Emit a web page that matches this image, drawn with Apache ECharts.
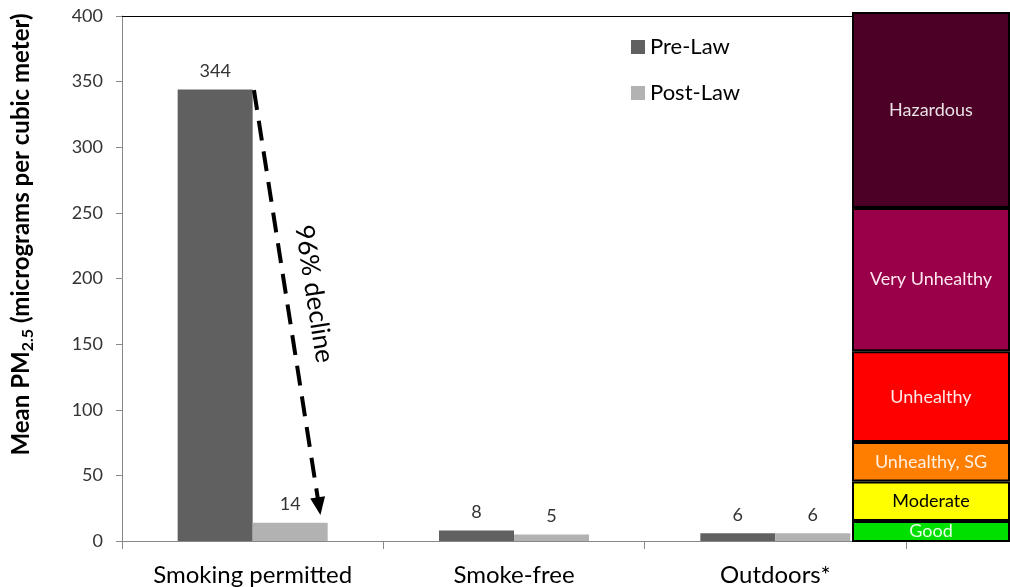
<!DOCTYPE html>
<html>
<head>
<meta charset="utf-8">
<script src="https://cdn.jsdelivr.net/npm/echarts@6/dist/echarts.min.js"></script>
<style>
html,body{margin:0;padding:0;background:#fff;}
#chart{width:1010px;height:587px;}
</style>
</head>
<body>
<div id="chart"></div>
<script>
// ---- data ----
var categories = ['Smoking permitted', 'Smoke-free', 'Outdoors*'];
var preLaw = [344, 8, 6];
var postLaw = [14, 5, 6];
var yTicks = [0, 50, 100, 150, 200, 250, 300, 350, 400];

// AQI bands (value ranges on the same PM2.5 scale)
var bandNames = ['Good', 'Moderate', 'Unhealthy, SG', 'Unhealthy', 'Very Unhealthy', 'Hazardous'];
var bandBounds = [0, 16, 46, 76, 145, 254, 403];
var bandColors = ['#00e000', '#ffff00', '#ff7e00', '#ff0000', '#990049', '#4c0026'];
var bandTextColors = ['#e8ffe8', '#000000', '#fff0e0', '#ffe8e8', '#ffe8f0', '#e8e0e4'];

// decline arrow: from top of Pre-Law bar to above Post-Law bar (x in category units)
var arrowStart = [0.505, 343.5];
var arrowEnd = [0.754, 26.5];
var arrowLabel = '96% decline';

var FONT = 'Lato, "Open Sans", sans-serif';

var bandSeries = bandNames.map(function (name, i) {
  return {
    name: name,
    type: 'bar',
    stack: 'aqi',
    xAxisIndex: 2,
    yAxisIndex: 1,
    barWidth: '100%',
    clip: false,
    silent: true,
    z: 5,
    data: [bandBounds[i + 1] - bandBounds[i]],
    itemStyle: { color: bandColors[i], borderColor: '#000', borderWidth: 2 },
    label: {
      show: true,
      position: 'inside',
      formatter: name,
      fontFamily: FONT,
      fontSize: 18,
      color: bandTextColors[i]
    }
  };
});

var chart = echarts.init(document.getElementById('chart'), null, { renderer: 'canvas' });
chart.setOption({
  animation: false,
  backgroundColor: '#ffffff',
  textStyle: { fontFamily: FONT },
  grid: [
    { left: 122, right: 104, top: 16, bottom: 45 },
    { left: 852, right: 0, top: 16, bottom: 45 }
  ],
  legend: {
    data: ['Pre-Law', 'Post-Law'],
    orient: 'vertical',
    left: 631,
    top: 36,
    padding: 0,
    itemWidth: 14,
    itemHeight: 14,
    itemGap: 24,
    icon: 'rect',
    textStyle: { fontFamily: FONT, fontSize: 22, color: '#000' }
  },
  xAxis: [
    {
      type: 'category',
      gridIndex: 0,
      data: categories,
      axisLine: { lineStyle: { color: '#888888', width: 1 } },
      axisTick: { show: true, length: 8, lineStyle: { color: '#888888' } },
      axisLabel: { fontFamily: FONT, fontSize: 24, color: '#000', margin: 22 }
    },
    {
      type: 'value',
      gridIndex: 0,
      position: 'top',
      min: 0,
      max: 3,
      axisLine: { show: true, onZero: false, lineStyle: { color: '#000', width: 1.2 } },
      axisTick: { show: false },
      axisLabel: { show: false },
      splitLine: { show: false }
    },
    {
      type: 'category',
      gridIndex: 1,
      data: ['AQI'],
      show: false
    }
  ],
  yAxis: [
    {
      type: 'value',
      gridIndex: 0,
      min: yTicks[0],
      max: yTicks[yTicks.length - 1],
      interval: yTicks[1] - yTicks[0],
      axisLine: { show: true, lineStyle: { color: '#888888', width: 1 } },
      axisTick: { show: true, length: 6, lineStyle: { color: '#888888' } },
      splitLine: { show: false },
      axisLabel: { fontFamily: FONT, fontSize: 18, color: '#333', margin: 19 },
      name: '{b|Mean PM}{s|2.5}{b| (micrograms per cubic meter)}',
      nameLocation: 'middle',
      nameGap: 86,
      nameTextStyle: {
        padding: [0, 0, 0, 88],
        rich: {
          b: { fontFamily: FONT, fontSize: 24, fontWeight: 'bold', color: '#000', lineHeight: 30 },
          s: { fontFamily: FONT, fontSize: 16, fontWeight: 'bold', color: '#000', lineHeight: 14, verticalAlign: 'bottom' }
        }
      }
    },
    {
      type: 'value',
      gridIndex: 1,
      min: 0,
      max: 400,
      show: false
    }
  ],
  series: [
    {
      name: 'Pre-Law',
      type: 'bar',
      xAxisIndex: 0,
      yAxisIndex: 0,
      data: preLaw,
      barGap: '0%',
      barCategoryGap: '42.6%',
      itemStyle: { color: '#606060' },
      label: { show: true, position: 'top', distance: 9, fontFamily: FONT, fontSize: 18, color: '#333' }
    },
    {
      name: 'Post-Law',
      type: 'bar',
      xAxisIndex: 0,
      yAxisIndex: 0,
      data: postLaw,
      barGap: '0%',
      barCategoryGap: '42.6%',
      itemStyle: { color: '#b2b2b2' },
      label: { show: true, position: 'top', distance: 9, fontFamily: FONT, fontSize: 18, color: '#333' }
    },
    {
      name: 'arrow',
      type: 'line',
      xAxisIndex: 1,
      yAxisIndex: 0,
      data: [],
      silent: true,
      z: 4,
      markLine: {
        silent: true,
        animation: false,
        symbol: ['none', 'triangle'],
        symbolSize: [15, 18],
        lineStyle: { color: '#000', width: 4, type: [20, 11] },
        label: {
          show: true,
          position: 'insideMiddleTop',
          formatter: arrowLabel,
          fontFamily: FONT,
          fontSize: 26,
          color: '#000',
          distance: 15
        },
        data: [[{ coord: arrowStart }, { coord: arrowEnd }]]
      }
    }
  ].concat(bandSeries)
});
</script>
</body>
</html>
